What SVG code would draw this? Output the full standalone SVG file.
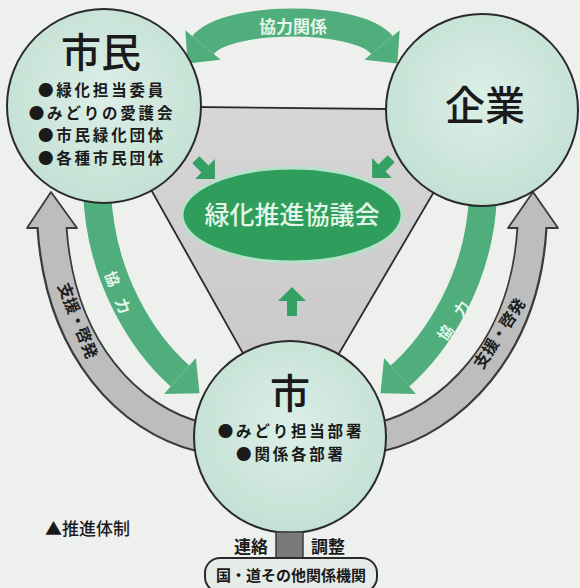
<svg xmlns="http://www.w3.org/2000/svg" width="580" height="588" viewBox="0 0 580 588">
<defs>
<radialGradient id="cg" cx="0.5" cy="0.45" r="0.6">
<stop offset="0" stop-color="#dcefe7"/>
<stop offset="1" stop-color="#c2dfd2"/>
</radialGradient>
<linearGradient id="tg" x1="0" y1="0" x2="0" y2="1">
<stop offset="0" stop-color="#d6d7d6"/>
<stop offset="1" stop-color="#c4c5c4"/>
</linearGradient>
</defs>
<style>
.circ{fill:url(#cg);stroke:#2a2a2a;stroke-width:2}
.jp{font-family:"Noto Sans CJK JP","Noto Sans CJK SC",sans-serif}
.title{font-size:40px;fill:#1a1a1a;font-weight:500}
.item{font-size:15.5px;letter-spacing:2.8px;fill:#1a1a1a;font-weight:700}
.lab{font-size:17px;fill:#1a1a1a;font-weight:700}
.gb{fill:none;stroke:#3a3a3a;stroke-width:31}
.gi{fill:none;stroke:#bdbdbd;stroke-width:27}
.gh{fill:#bdbdbd;stroke:#3a3a3a;stroke-width:1.8;stroke-linejoin:round}
.grn{fill:none;stroke:#4fae7c;stroke-width:28}
.grh{fill:#4fae7c}
.sa{fill:#35a063}
.gt{font-size:16px;fill:#1e1e1e;font-weight:700}
.wt{font-size:15px;fill:#e6f7ec;font-weight:700}
</style>
<rect width="580" height="588" fill="#eef0ee"/>
<g id="triangle">
<polygon points="104,106 482,110 290,437" fill="url(#tg)" stroke="#2a2a2a" stroke-width="1.8"/>
</g>
<g id="connectors">
<path class="gb" d="M200,437 C130,420 60,350 52,228"/>
<polygon class="gh" points="51,192 77,228 27,228"/>
<path class="gi" d="M200,437 C130,420 60,350 52,226"/>
<path class="gb" d="M380,437 C450,420 525,350 532,228"/>
<polygon class="gh" points="533,192 558,228 508,228"/>
<path class="gi" d="M380,437 C450,420 525,350 532,226"/>
<path class="grn" d="M97,190 C100,280 145,345 180,376"/>
<polygon class="grh" points="199.5,393.2 164.1,394 195.9,358"/>
<path class="grn" d="M483,195 C480,280 435,345 400,376"/>
<polygon class="grh" points="380.5,393.2 415.9,394 384.1,358"/>
<path class="grn" d="M203,45 C228,15 357,15 382,45" stroke-width="27"/>
<polygon class="grh" points="187.6,63.4 220.7,59.7 185.3,30.3"/>
<polygon class="grh" points="397.4,63.4 399.7,30.3 364.3,59.7"/>
<polygon class="sa" transform="translate(205,169) rotate(135)" points="0,-14 14,0 5,0 5,13 -5,13 -5,0 -14,0"/>
<polygon class="sa" transform="translate(382,168) rotate(-135)" points="0,-14 14,0 5,0 5,13 -5,13 -5,0 -14,0"/>
<polygon class="sa" transform="translate(292,302)" points="0,-15 14,-1 5,-1 5,14 -5,14 -5,-1 -14,-1"/>
<text class="jp" x="293" y="33" text-anchor="middle" font-size="17" font-weight="700" fill="#e6f7ec">協力関係</text>
<text class="jp wt" transform="translate(115,301) rotate(68)" text-anchor="middle" letter-spacing="14">協力</text>
<text class="jp wt" transform="translate(462,318) rotate(-56)" text-anchor="middle" letter-spacing="14">協力</text>
<text class="jp gt" transform="translate(77,321) rotate(68)" text-anchor="middle" dy="5">支援・啓発</text>
<text class="jp gt" transform="translate(500,334) rotate(-57)" text-anchor="middle" dy="5">支援・啓発</text>
</g>
<g id="shimin">
<circle class="circ" cx="104" cy="106" r="97"/>
<text class="jp title" x="101" y="67" text-anchor="middle">市民</text>
<text class="jp item" x="102" y="96" text-anchor="middle">●緑化担当委員</text>
<text class="jp item" x="102" y="118.5" text-anchor="middle">●みどりの愛護会</text>
<text class="jp item" x="102" y="141" text-anchor="middle">●市民緑化団体</text>
<text class="jp item" x="102" y="163.5" text-anchor="middle">●各種市民団体</text>
</g>
<g id="kigyo">
<circle class="circ" cx="482" cy="110" r="96"/>
<text class="jp title" x="485" y="120" text-anchor="middle">企業</text>
</g>
<g id="shi">
<circle class="circ" cx="290" cy="437" r="96"/>
<text class="jp title" x="290" y="408" text-anchor="middle">市</text>
<text class="jp item" x="291" y="437" text-anchor="middle">●みどり担当部署</text>
<text class="jp item" x="291" y="460" text-anchor="middle">●関係各部署</text>
</g>
<g id="council">
<ellipse cx="292" cy="215" rx="110" ry="47" fill="#2f9e5c" stroke="#b5e2c8" stroke-width="3"/>
<text class="jp" x="292" y="224" text-anchor="middle" font-size="25" font-weight="500" fill="#e3f6e8">緑化推進協議会</text>
</g>
<g id="liaison">
<rect x="276" y="532" width="27" height="30" fill="#7a7a7a" stroke="#3a3a3a" stroke-width="1.5"/>
<text class="jp lab" x="251" y="553" text-anchor="middle">連絡</text>
<text class="jp lab" x="328" y="553" text-anchor="middle">調整</text>
</g>
<g id="agencies">
<rect x="205" y="558" width="172" height="34" rx="15" fill="#e6ebe7" stroke="#2a2a2a" stroke-width="2"/>
<text class="jp" x="291" y="581" text-anchor="middle" font-size="15" font-weight="700" fill="#1a1a1a">国・道その他関係機関</text>
</g>
<g id="caption">
<text class="jp" x="45" y="535" font-size="17" font-weight="500" fill="#1a1a1a">▲推進体制</text>
</g>
</svg>
